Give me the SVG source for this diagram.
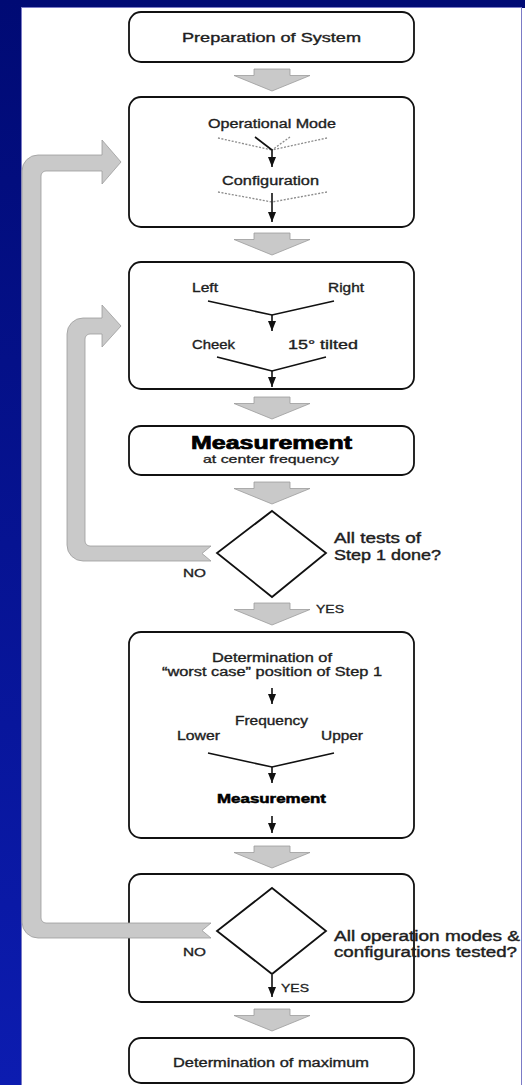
<svg xmlns="http://www.w3.org/2000/svg" width="525" height="1085" viewBox="0 0 525 1085">
<style>
.box{fill:#fff;stroke:#111;stroke-width:1.8}
.dia{fill:#fff;stroke:#111;stroke-width:1.8}
.t{font-family:"Liberation Sans",Arial,sans-serif;font-size:12.5px;fill:#1e1e1e;stroke:#1e1e1e;stroke-width:0.35}
.tl{font-family:"Liberation Sans",Arial,sans-serif;font-size:14px;fill:#1e1e1e;stroke:#1e1e1e;stroke-width:0.4}
.ts{font-family:"Liberation Sans",Arial,sans-serif;font-size:10.5px;fill:#1e1e1e;stroke:#1e1e1e;stroke-width:0.3}
.b{font-weight:bold;fill:#000;stroke:#000}
.ln{fill:none;stroke:#111;stroke-width:1.6}
.arr{marker-end:url(#ah)}
.dash{fill:none;stroke:#8c8c8c;stroke-width:1.3;stroke-dasharray:2 1.5}
.gray{fill:#c9c9c9;stroke:#9c9c9c;stroke-width:0.8}
</style>
<defs>
<linearGradient id="bg" x1="0" y1="0" x2="0" y2="1">
<stop offset="0" stop-color="#000a74"/>
<stop offset="1" stop-color="#0c1cb0"/>
</linearGradient>
<marker id="ah" markerUnits="userSpaceOnUse" viewBox="0 0 10 8" refX="10" refY="4" markerWidth="10" markerHeight="8" orient="auto">
<path d="M0,0 L10,4 L0,8 Z" fill="#111"/>
</marker>
<path id="ga" d="M-18,0 H18 V6.5 H38 L0,22 L-38,6.5 H-18 Z"/>
</defs>
<rect x="0" y="0" width="525" height="1085" fill="url(#bg)"/>
<rect x="21.5" y="7.5" width="500" height="1080" fill="#fff" stroke="#7b7bc6" stroke-width="1"/>
<rect x="522" y="8" width="3" height="1077" fill="#fff"/>

<g id="n1">
<rect class="box" x="129" y="12" width="285" height="50" rx="12"/>
<text class="t" x="182" y="42" textLength="179" lengthAdjust="spacingAndGlyphs">Preparation of System</text>
</g>
<g id="n2">
<rect class="box" x="129" y="97" width="285" height="130" rx="12"/>
<text class="t" x="208" y="128" textLength="128" lengthAdjust="spacingAndGlyphs">Operational Mode</text>
<line class="dash" x1="218" y1="138" x2="272" y2="150"/>
<line class="dash" x1="327" y1="138" x2="272" y2="150"/>
<line class="dash" x1="290" y1="137" x2="272" y2="150"/>
<polyline class="ln arr" points="255,137 272,150 272,167"/>
<text class="t" x="222" y="185" textLength="97" lengthAdjust="spacingAndGlyphs">Configuration</text>
<line class="dash" x1="218" y1="192" x2="272" y2="202"/>
<line class="dash" x1="327" y1="192" x2="272" y2="202"/>
<line class="ln arr" x1="272" y1="193" x2="272" y2="222"/>
</g>
<g id="n3">
<rect class="box" x="129" y="262" width="285" height="127" rx="12"/>
<text class="t" x="192" y="292" textLength="26" lengthAdjust="spacingAndGlyphs">Left</text>
<text class="t" x="328" y="292" textLength="36" lengthAdjust="spacingAndGlyphs">Right</text>
<polyline class="ln" points="208,301 272,315 334,301"/>
<line class="ln arr" x1="272" y1="315" x2="272" y2="331"/>
<text class="t" x="192" y="349" textLength="43" lengthAdjust="spacingAndGlyphs">Cheek</text>
<text class="t" x="288" y="349" textLength="70" lengthAdjust="spacingAndGlyphs">15° tilted</text>
<polyline class="ln" points="217,357 272,371 326,357"/>
<line class="ln arr" x1="272" y1="371" x2="272" y2="387"/>
</g>
<g id="n4">
<rect class="box" x="129" y="426" width="285" height="49" rx="12"/>
<text class="t b" x="191" y="449" style="font-size:18px;stroke-width:0.7" textLength="161" lengthAdjust="spacingAndGlyphs">Measurement</text>
<text class="ts" x="203" y="463" style="font-size:11px" textLength="136" lengthAdjust="spacingAndGlyphs">at center frequency</text>
</g>
<g id="n5">
<polygon class="dia" points="272,511 326,553 272,597 217,553"/>
<text class="tl" x="334" y="543" textLength="87" lengthAdjust="spacingAndGlyphs">All tests of</text>
<text class="tl" x="334" y="560" textLength="107" lengthAdjust="spacingAndGlyphs">Step 1 done?</text>
<text class="ts" x="183" y="577" textLength="23" lengthAdjust="spacingAndGlyphs">NO</text>
<text class="ts" x="316" y="613" textLength="28" lengthAdjust="spacingAndGlyphs">YES</text>
</g>
<g id="n6">
<rect class="box" x="129" y="632" width="285" height="206" rx="12"/>
<text class="t" x="212" y="662" textLength="120" lengthAdjust="spacingAndGlyphs">Determination of</text>
<text class="t" x="162" y="676" textLength="220" lengthAdjust="spacingAndGlyphs">“worst case” position of Step 1</text>
<line class="ln arr" x1="272" y1="688" x2="272" y2="704"/>
<text class="t" x="235" y="725" textLength="73" lengthAdjust="spacingAndGlyphs">Frequency</text>
<text class="t" x="177" y="740" textLength="43" lengthAdjust="spacingAndGlyphs">Lower</text>
<text class="t" x="321" y="740" textLength="42" lengthAdjust="spacingAndGlyphs">Upper</text>
<polyline class="ln" points="208,753 272,767 334,753"/>
<line class="ln arr" x1="272" y1="767" x2="272" y2="783"/>
<text class="t b" x="217" y="803" style="stroke-width:0.5" textLength="109" lengthAdjust="spacingAndGlyphs">Measurement</text>
<line class="ln arr" x1="272" y1="816" x2="272" y2="833"/>
</g>
<g id="n7">
<rect class="box" x="129" y="874" width="285" height="128" rx="12"/>
<polygon class="dia" points="272,888 326,931 272,974 217,931"/>
<text class="tl" x="334" y="941" textLength="186" lengthAdjust="spacingAndGlyphs">All operation modes &amp;</text>
<text class="tl" x="334" y="957" textLength="183" lengthAdjust="spacingAndGlyphs">configurations tested?</text>
<text class="ts" x="183" y="956" textLength="23" lengthAdjust="spacingAndGlyphs">NO</text>
<line class="ln arr" x1="272" y1="975" x2="272" y2="997"/>
<text class="ts" x="281" y="992" textLength="28" lengthAdjust="spacingAndGlyphs">YES</text>
</g>
<g id="n8">
<rect class="box" x="129" y="1038" width="285" height="45" rx="12"/>
<text class="t" x="173" y="1067" textLength="196" lengthAdjust="spacingAndGlyphs">Determination of maximum</text>
</g>

<g id="connectors">
<use href="#ga" class="gray" x="272" y="69"/>
<use href="#ga" class="gray" x="272" y="233"/>
<use href="#ga" class="gray" x="272" y="397"/>
<use href="#ga" class="gray" x="272" y="482"/>
<use href="#ga" class="gray" x="272" y="603"/>
<use href="#ga" class="gray" x="272" y="846"/>
<use href="#ga" class="gray" x="272" y="1009"/>
<path class="gray" d="M121,162 L102,140 V155 H38 A16,16 0 0 0 22,171 V922 A16,16 0 0 0 38,938 H211 L202,930.5 L211,923 H46 A5,5 0 0 1 41,918 V176 A5,5 0 0 1 46,171 H102 V184 Z"/>
<path class="gray" d="M121,326 L102,305 V318 H83 A16,16 0 0 0 67,334 V545 A16,16 0 0 0 83,561 H211 L202,553.5 L211,546 H90 A5,5 0 0 1 85,541 V339 A5,5 0 0 1 90,334 H102 V347 Z"/>
</g>
</svg>
